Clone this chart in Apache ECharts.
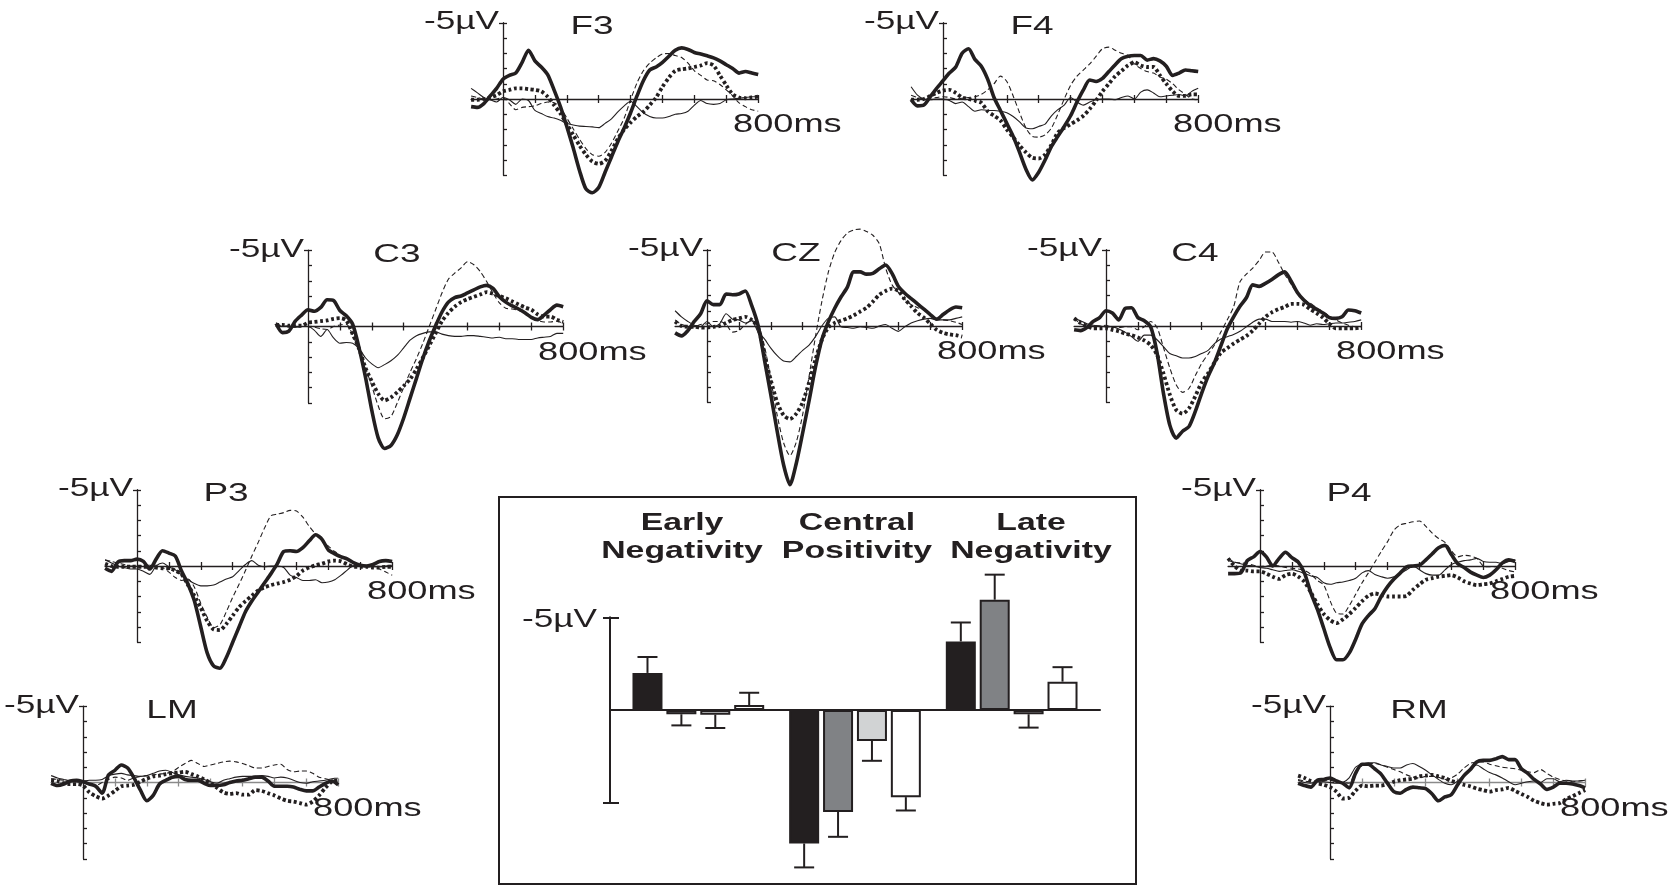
<!DOCTYPE html>
<html><head><meta charset="utf-8">
<script src="https://cdn.jsdelivr.net/npm/echarts@6/dist/echarts.min.js"></script>
<style>html,body{margin:0;padding:0;background:#fff}#c{width:1672px;height:885px}</style>
</head><body><div id="c"></div>
<script>
// ---------- DATA ----------
const timesMs = [-100,-80,-60,-40,-20,0,20,40,60,80,100,120,140,160,180,200,220,240,260,280,300,320,340,360,380,400,420,440,460,480,500,520,540,560,580,600,620,640,660,680,700,720,740,760,780,800];
const xTickMs = [100,200,300,400,500,600,700,800];
const channelNames = ['F3','F4','C3','CZ','C4','P3','P4','LM','RM'];
const ampLabel = '-5µV';
const timeLabel = '800ms';
// values in µV (negative drawn upwards)
const F3_thickSolid = [0.5,0.55,0.3,-0.2,-0.7,-1.3,-1.55,-1.7,-2.4,-3.2,-2.5,-2.1,-1.6,-0.6,0.5,1.8,3.2,4.7,5.9,6.15,5.8,4.8,3.8,2.8,1.9,0.9,-0.2,-1.2,-1.9,-2.1,-2.4,-2.8,-3.2,-3.35,-3.25,-3.05,-2.95,-2.83,-2.7,-2.5,-2.25,-2.0,-1.7,-1.8,-1.7,-1.6];
const F3_thinDashed = [-0.2,-0.1,0.0,0.05,0.0,-0.1,0.3,0.7,0.55,0.5,0.45,0.3,0.2,0.25,0.55,1.25,1.95,2.65,3.25,3.65,3.75,3.5,2.9,2.1,1.25,0.05,-1.05,-1.85,-2.35,-2.7,-2.95,-2.98,-2.85,-2.72,-2.35,-1.85,-1.55,-1.25,-1.2,-0.95,-0.6,-0.2,0.25,0.5,0.7,0.8];
const F3_thickDotted = [0.05,0.05,0.0,-0.1,-0.25,-0.5,-0.6,-0.7,-0.7,-0.65,-0.6,-0.5,-0.15,0.4,0.95,1.65,2.35,3.05,3.65,4.1,4.25,4.05,3.4,2.6,2.0,1.55,1.15,0.85,0.4,-0.1,-0.8,-1.4,-1.85,-1.95,-2.0,-2.1,-2.2,-2.35,-2.2,-1.55,-0.9,-0.3,-0.1,-0.05,-0.1,-0.15];
const F3_thinSolid = [-0.7,-0.4,-0.1,0.05,0.2,-0.1,0.05,0.35,0.0,0.1,0.75,0.95,1.15,1.25,1.4,1.6,1.7,1.78,1.8,1.83,1.88,1.6,1.3,0.85,0.45,0.15,0.5,0.9,1.15,1.25,1.25,1.15,1.0,0.95,0.8,0.4,0.1,0.3,0.35,0.3,0.05,0.0,-0.05,-0.1,-0.15,-0.15];

const F4_thickSolid = [0.05,0.45,0.4,-0.15,-0.7,-1.2,-1.7,-2.1,-3.0,-3.3,-2.6,-2.15,-1.3,-0.1,0.75,1.6,2.45,3.5,4.6,5.3,4.8,4.0,3.1,2.45,1.8,1.1,0.2,-0.6,-1.25,-1.15,-1.35,-1.8,-2.25,-2.65,-2.8,-2.85,-2.85,-2.55,-2.65,-2.5,-2.15,-1.55,-1.7,-1.9,-1.85,-1.8];
const F4_thinDashed = [-0.25,-0.1,0.0,-0.05,-0.1,-0.15,-0.1,0.0,-0.05,-0.1,-0.15,-0.3,-0.6,-1.0,-1.5,-1.15,-0.2,0.9,1.9,2.45,2.5,2.35,1.9,1.0,0.0,-0.9,-1.5,-1.9,-2.3,-2.8,-3.3,-3.4,-3.2,-3.0,-2.85,-2.3,-2.0,-1.8,-1.7,-1.45,-1.3,-1.0,-0.6,-0.3,0.0,0.05];
const F4_thickDotted = [0.05,0.05,0.0,-0.2,-0.4,-0.55,-0.6,-0.4,-0.1,0.0,0.1,0.25,0.8,1.1,1.4,2.0,2.5,3.05,3.5,3.85,3.9,3.65,3.0,2.2,1.9,1.65,1.4,1.1,0.65,0.1,-0.5,-1.0,-1.5,-1.85,-2.2,-2.4,-2.2,-2.1,-2.1,-1.55,-1.0,-0.5,-0.2,-0.2,-0.3,-0.3];
const F4_thinSolid = [-0.8,-0.25,0.0,0.05,0.0,0.0,0.1,0.3,0.2,0.5,0.8,0.7,0.75,0.75,0.8,0.9,1.15,1.5,1.9,1.95,1.8,1.65,1.1,0.7,0.4,-0.1,0.2,0.4,0.2,0.05,0.0,0.0,0.05,-0.1,-0.2,0.0,-0.45,-0.6,-0.4,-0.15,-0.2,-0.25,-0.3,-0.2,-0.5,-0.7];

const C3_thickSolid = [-0.2,0.4,0.3,-0.35,-0.75,-1.1,-1.0,-1.25,-1.75,-1.7,-1.05,-0.7,-0.15,1.4,3.3,5.5,7.3,8.0,7.8,7.1,6.0,4.7,3.4,2.1,0.95,-0.05,-0.95,-1.6,-1.9,-2.0,-2.2,-2.4,-2.6,-2.7,-2.5,-1.95,-1.6,-1.35,-1.15,-0.9,-0.6,-0.45,-0.75,-1.1,-1.4,-1.3];
const C3_thinDashed = [-0.25,0.0,-0.05,-0.05,0.0,0.0,0.05,0.15,0.2,0.0,-0.1,-0.15,0.55,1.6,2.7,3.9,5.2,6.05,5.9,5.0,4.0,3.0,2.1,1.1,0.0,-1.1,-2.2,-3.1,-3.5,-3.85,-4.25,-4.05,-3.6,-2.95,-2.2,-1.55,-1.2,-1.15,-1.05,-0.9,-0.7,-0.4,-0.3,-0.3,-0.35,-0.2];
const C3_thickDotted = [-0.1,-0.1,-0.05,-0.05,-0.05,-0.25,-0.3,-0.35,-0.4,-0.5,-0.55,-0.4,0.5,1.45,2.7,3.6,4.4,4.85,4.65,4.3,3.9,3.45,2.8,2.05,1.25,0.45,-0.35,-0.9,-1.3,-1.6,-1.8,-1.95,-2.1,-2.25,-2.15,-2.0,-1.85,-1.65,-1.45,-1.25,-1.1,-0.8,-0.65,-0.65,-0.45,-0.3];
const C3_thinSolid = [-0.2,0.0,0.0,0.05,0.0,0.0,0.25,0.65,0.2,0.75,1.1,1.05,1.1,1.45,2.05,2.45,2.7,2.5,2.25,1.9,1.4,0.9,0.6,0.45,0.35,0.35,0.5,0.6,0.65,0.65,0.6,0.6,0.65,0.7,0.75,0.7,0.8,0.8,0.85,0.85,0.85,0.75,0.7,0.65,0.45,0.45];

const CZ_thickSolid = [0.45,0.65,0.3,-0.3,-0.8,-1.65,-1.4,-1.4,-2.1,-2.05,-2.1,-2.3,-1.35,-0.05,2.2,4.5,6.9,9.1,10.4,9.0,7.0,4.9,2.7,0.9,-0.25,-1.15,-1.9,-2.55,-3.55,-3.55,-3.4,-3.45,-3.75,-4.0,-3.45,-2.6,-2.15,-1.8,-1.45,-1.1,-0.75,-0.45,-0.75,-1.05,-1.25,-1.2];
const CZ_thinDashed = [-0.4,-0.1,0.0,0.05,-0.1,-0.15,-0.3,-0.3,-0.1,0.4,0.3,-0.1,-0.35,-0.1,1.3,3.5,5.85,7.65,8.5,7.6,5.8,3.3,0.7,-1.6,-3.5,-4.8,-5.6,-6.1,-6.3,-6.35,-6.2,-5.95,-5.4,-3.8,-2.7,-2.2,-1.75,-1.4,-1.2,-1.05,-0.75,-0.45,-0.4,-0.35,-0.25,-0.1];
const CZ_thickDotted = [-0.3,0.0,0.05,0.05,0.1,0.1,0.05,0.0,-0.2,-0.4,-0.5,-0.6,-0.4,0.1,1.9,3.55,5.0,5.85,6.1,5.75,5.0,3.7,2.2,0.9,0.1,-0.2,-0.35,-0.5,-0.7,-0.95,-1.2,-1.6,-2.05,-2.3,-2.45,-2.3,-1.75,-1.3,-0.85,-0.55,-0.15,0.25,0.45,0.55,0.6,0.7];
const CZ_thinSolid = [-1.0,-0.6,-0.3,-0.05,0.05,-0.3,0.05,-0.15,-0.8,-0.45,-0.4,-0.2,-0.35,0.4,0.85,1.45,1.95,2.3,2.35,2.0,1.6,1.25,0.7,0.0,-0.5,-0.6,0.05,0.1,0.15,0.05,0.1,0.15,0.0,-0.1,0.15,0.35,0.05,-0.2,-0.35,-0.45,-0.5,-0.4,-0.4,-0.4,-0.5,-0.6];

const C4_thickSolid = [0.25,0.3,0.1,-0.3,-0.55,-1.0,-0.85,-0.4,-1.15,-1.2,-0.55,-0.35,0.05,1.75,4.4,6.5,7.35,6.9,6.6,5.6,4.4,3.3,2.4,1.3,0.2,-0.6,-1.3,-1.85,-2.7,-2.6,-2.8,-3.05,-3.35,-3.55,-2.95,-2.2,-1.7,-1.35,-1.1,-0.85,-0.55,-0.5,-0.6,-1.05,-1.0,-0.85];
const C4_thinDashed = [-0.5,-0.15,0.0,0.0,0.0,-0.05,0.1,0.1,0.05,0.05,0.25,0.05,-0.3,0.1,1.4,2.75,3.85,4.35,4.1,3.25,2.45,1.85,1.25,0.4,-0.4,-1.25,-2.9,-3.4,-3.8,-4.3,-4.85,-4.85,-4.2,-3.4,-2.75,-2.15,-1.75,-1.5,-1.2,-0.95,-0.65,-0.4,-0.2,-0.05,0.05,0.05];
const C4_thickDotted = [-0.5,-0.2,0.0,0.15,0.15,0.15,0.25,0.35,0.5,0.6,0.75,0.95,1.25,1.9,3.1,4.5,5.5,5.75,5.4,4.6,3.7,3.1,2.4,1.75,1.45,1.15,0.9,0.65,0.3,-0.15,-0.6,-0.9,-1.1,-1.25,-1.45,-1.45,-1.4,-1.1,-0.85,-0.55,-0.15,0.15,0.15,0.15,0.15,0.1];
const C4_thinSolid = [-0.5,-0.35,-0.15,-0.05,0.0,0.05,0.05,0.2,0.4,0.7,1.0,0.6,0.6,0.9,1.35,1.8,1.95,2.1,2.1,2.0,1.8,1.6,1.15,0.85,0.7,0.55,0.35,0.05,-0.25,-0.45,-0.45,-0.3,-0.3,-0.3,-0.25,-0.3,-0.2,-0.05,-0.15,-0.1,-0.15,-0.2,-0.2,-0.25,-0.3,-0.4];

const P3_thickSolid = [0.15,0.35,-0.25,-0.35,-0.35,-0.45,-0.3,0.2,-0.45,-1.0,-0.85,-0.65,0.35,1.2,2.3,4.0,5.7,6.55,6.7,6.0,5.0,4.0,3.0,2.3,1.7,1.1,0.5,-0.15,-0.95,-1.0,-0.95,-1.2,-1.65,-2.05,-1.75,-1.05,-0.8,-0.6,-0.45,-0.2,-0.05,0.0,-0.1,-0.3,-0.35,-0.3];
const P3_thinDashed = [-0.4,-0.3,-0.2,-0.1,0.0,0.0,-0.05,-0.05,-0.05,0.1,0.4,0.75,0.95,0.85,1.4,2.45,3.35,4.05,3.85,3.0,2.05,1.2,0.3,-0.65,-1.55,-2.5,-3.3,-3.4,-3.5,-3.65,-3.6,-3.2,-2.6,-2.1,-1.7,-1.3,-0.95,-0.65,-0.45,-0.25,-0.05,0.0,0.05,0.2,0.4,0.6];
const P3_thickDotted = [-0.15,0.0,0.05,0.05,0.05,0.05,0.05,0.05,0.1,0.15,0.15,0.3,0.55,1.25,1.95,2.75,3.6,4.15,4.2,3.8,3.25,2.7,2.3,1.95,1.6,1.4,1.25,1.15,1.05,0.9,0.65,0.3,0.1,-0.05,-0.15,-0.3,-0.35,-0.3,-0.1,0.05,0.05,0.05,0.1,0.1,0.05,0.05];
const P3_thinSolid = [-0.4,-0.2,0.0,0.1,0.2,0.2,0.35,0.55,0.0,-0.2,0.05,0.25,0.6,0.9,1.15,1.3,1.3,1.25,1.05,0.85,0.7,0.3,-0.1,-0.35,-0.05,0.05,0.0,0.0,0.1,0.6,0.75,0.95,0.95,0.9,1.1,1.05,0.9,0.6,0.25,-0.05,0.0,0.05,0.05,0.05,0.0,-0.05];

const P4_thickSolid = [0.5,0.5,0.45,-0.35,-0.6,-0.95,-0.6,0.0,-0.5,-0.9,-0.55,-0.25,0.5,1.8,2.85,4.1,5.35,6.15,6.15,5.7,4.8,3.8,3.25,2.8,2.0,1.35,0.85,0.45,0.05,0.0,-0.05,-0.4,-0.8,-1.2,-1.35,-0.75,-0.15,0.1,0.4,0.6,0.75,0.6,0.25,-0.2,-0.4,-0.3];
const P4_thinDashed = [-0.5,-0.25,-0.2,-0.15,-0.05,0.05,0.0,-0.05,0.0,0.1,0.15,0.2,0.3,0.55,0.95,1.25,2.3,3.1,3.15,2.6,1.85,1.1,0.45,-0.25,-0.95,-1.6,-2.35,-2.7,-2.8,-2.9,-2.95,-2.6,-2.15,-1.8,-1.55,-1.0,-0.6,-0.7,-0.65,-0.5,0.0,0.05,0.05,0.15,0.3,0.4];
const P4_thickDotted = [-0.5,0.0,0.3,0.3,0.35,0.35,0.5,0.7,0.85,0.6,0.5,0.7,1.05,1.75,2.5,3.15,3.55,3.75,3.5,3.15,2.75,2.3,1.95,1.8,1.9,2.0,2.0,2.0,1.95,1.55,1.2,0.9,0.8,0.7,0.65,0.6,0.75,1.0,1.15,1.25,1.2,1.15,1.0,0.85,0.7,0.65];
const P4_thinSolid = [-0.35,-0.25,-0.15,-0.05,0.0,0.1,0.15,0.25,0.35,0.3,0.25,0.35,0.5,0.65,0.75,1.1,1.2,1.1,1.05,0.95,0.8,0.45,0.3,0.55,0.7,0.8,0.7,0.5,0.25,0.0,0.25,0.5,0.6,0.6,0.25,-0.1,-0.25,-0.35,-0.4,-0.5,-0.3,-0.25,-0.25,-0.15,-0.3,-0.4];

const LM_thickSolid = [0.05,0.2,0.1,-0.1,-0.15,-0.05,0.1,0.25,0.7,-0.5,-0.8,-1.15,-0.95,-0.3,0.5,1.2,0.85,0.1,-0.15,-0.35,-0.4,-0.2,-0.15,-0.15,0.05,0.2,0.2,0.15,0.0,-0.1,-0.15,-0.25,-0.35,-0.35,-0.1,0.25,0.25,0.25,0.3,0.45,0.55,0.55,0.3,0.05,-0.1,0.15];
const LM_thinDashed = [-0.25,-0.2,-0.15,-0.1,-0.05,0.0,0.15,0.2,0.0,-0.2,-0.35,-0.3,-0.15,-0.3,-0.4,-0.45,-0.5,-0.55,-0.6,-0.7,-1.0,-1.25,-1.45,-1.25,-1.05,-1.15,-1.25,-1.35,-1.4,-1.35,-1.25,-1.1,-0.95,-0.95,-1.05,-1.15,-1.2,-0.85,-0.7,-0.75,-0.75,-0.6,-0.35,-0.25,-0.15,-0.05];
const LM_thickDotted = [-0.15,-0.1,0.05,0.1,0.1,0.2,0.65,0.9,1.05,0.85,0.55,0.25,0.2,0.15,-0.05,-0.25,-0.4,-0.45,-0.55,-0.6,-0.65,-0.7,-0.55,-0.4,-0.2,0.05,0.35,0.65,0.75,0.7,0.8,0.8,0.5,0.55,0.7,0.85,1.05,1.2,1.25,1.35,1.45,1.25,0.85,0.35,-0.05,-0.15];
const LM_thinSolid = [-0.45,-0.3,-0.2,-0.1,-0.05,-0.1,-0.15,-0.15,-0.2,-0.45,-0.55,-0.6,-0.5,-0.45,-0.4,-0.45,-0.6,-0.75,-0.8,-0.65,-0.5,-0.4,-0.35,-0.3,-0.2,-0.05,0.05,-0.15,-0.25,-0.35,-0.4,-0.4,-0.4,-0.45,-0.4,-0.3,-0.35,-0.3,-0.15,0.0,0.05,-0.05,-0.1,-0.15,-0.25,-0.3];

const RM_thickSolid = [0.05,0.2,0.3,-0.15,-0.2,-0.3,-0.1,0.05,0.35,-0.6,-1.2,-1.2,-0.9,-0.55,0.05,0.6,0.7,0.45,0.3,0.35,0.4,0.75,1.2,0.95,0.8,0.15,-0.45,-0.85,-1.35,-1.45,-1.45,-1.55,-1.7,-1.5,-1.5,-0.9,-0.6,-0.2,0.1,0.45,0.3,0.05,0.05,0.1,0.2,0.35];
const RM_thinDashed = [-0.2,-0.1,-0.05,-0.05,-0.1,-0.15,-0.05,0.0,0.05,-0.7,-1.1,-1.25,-1.25,-1.15,-1.0,-0.85,-0.7,-0.5,-0.35,-0.3,-0.4,-0.4,-0.35,-0.2,-0.3,-0.55,-0.95,-1.25,-1.35,-1.35,-1.2,-1.1,-1.0,-0.95,-0.9,-0.8,-0.7,-0.65,-0.85,-0.6,-0.35,-0.2,-0.1,-0.05,-0.1,-0.15];
const RM_thickDotted = [-0.45,-0.3,-0.1,0.05,0.15,0.3,0.6,1.05,1.0,0.55,0.2,0.25,0.2,0.2,0.1,-0.05,-0.15,-0.2,-0.25,-0.4,-0.45,-0.5,-0.4,-0.3,-0.1,0.0,0.15,0.25,0.4,0.5,0.6,0.5,0.45,0.35,0.55,0.75,0.95,1.2,1.35,1.45,1.4,1.35,1.1,0.9,0.7,0.5];
const RM_thinSolid = [-0.15,0.0,0.05,-0.05,-0.05,0.0,0.05,0.0,-0.3,-1.0,-1.2,-1.3,-1.3,-1.15,-1.05,-0.95,-0.95,-1.15,-1.25,-1.05,-0.8,-0.5,-0.2,0.05,0.15,-0.1,-0.5,-0.9,-1.15,-0.9,-0.65,-0.5,-0.3,-0.05,0.15,0.05,-0.05,-0.1,0.0,-0.25,-0.25,-0.05,-0.15,-0.1,-0.1,-0.15];

// bar inset (µV, negative drawn upwards)
const barCategories = ['Early Negativity','Central Positivity','Late Negativity'];
const barCategoryLines = [['Early','Negativity'],['Central','Positivity'],['Late','Negativity']];
const barBlack = [-2.0, 7.2, -3.7];
const barDarkGray = [0.23, 5.5, -5.95];
const barLightGray = [0.25, 1.67, 0.23];
const barWhite = [-0.27, 4.7, -1.53];
const errBlack = [0.86, 1.29, 1.02];
const errDarkGray = [0.6, 1.34, 1.35];
const errLightGray = [0.72, 1.07, 0.72];
const errWhite = [0.66, 0.72, 0.78];

// ---------- LAYOUT / STYLE ----------
const INK = '#231f20';
const FONT = '"Liberation Sans", Arial, Helvetica, sans-serif';
const PX_PER_MS = 0.319, PX_PER_UV = 15.25;
// origin (0 ms, 0 µV) of each panel, in px
const panelOrigin = [[503,99],[943,99],[308,326.5],[707,326],[1106,326],[137,566],[1260,566],[83,782.5],[1330,782.5]];
const panelData = [
  [F3_thickSolid,F3_thinDashed,F3_thickDotted,F3_thinSolid],
  [F4_thickSolid,F4_thinDashed,F4_thickDotted,F4_thinSolid],
  [C3_thickSolid,C3_thinDashed,C3_thickDotted,C3_thinSolid],
  [CZ_thickSolid,CZ_thinDashed,CZ_thickDotted,CZ_thinSolid],
  [C4_thickSolid,C4_thinDashed,C4_thickDotted,C4_thinSolid],
  [P3_thickSolid,P3_thinDashed,P3_thickDotted,P3_thinSolid],
  [P4_thickSolid,P4_thinDashed,P4_thickDotted,P4_thinSolid],
  [LM_thickSolid,LM_thinDashed,LM_thickDotted,LM_thinSolid],
  [RM_thickSolid,RM_thinDashed,RM_thickDotted,RM_thinSolid]
];
const lineStyles = [
  {width:3.6, type:'solid'},
  {width:1.1, type:[5,3]},
  {width:3.8, type:[3,2.6]},
  {width:1.1, type:'solid'}
];
const drawOrder = [3,1,2,0];
const grayAxisPanels = ['LM','RM'];

function label(x, y, text, align, opts) {
  opts = opts || {};
  return {type:'text', x:x, y:y, scaleX:opts.sx||1.42, scaleY:1, originX:0, originY:0, silent:true, z:100,
    style:{text:text, fill:INK, fontSize:opts.size||25.5, fontFamily:FONT, fontWeight:opts.bold?'bold':'normal',
      align:align, verticalAlign:'middle', textAlign:align, textVerticalAlign:'middle'}};
}

const option = {animation:false, backgroundColor:'#fff', grid:[], xAxis:[], yAxis:[], series:[], graphic:[]};

panelData.forEach((sets, i) => {
  const [ox, oy] = panelOrigin[i];
  const name = channelNames[i];
  const gi = option.grid.length;
  option.grid.push({left: ox - 100*PX_PER_MS, top: oy - 5*PX_PER_UV, width: 900*PX_PER_MS, height: 10*PX_PER_UV, containLabel:false});
  const xi = option.xAxis.length, yi = option.yAxis.length;
  const axisCol = grayAxisPanels.includes(name) ? '#8a8a8a' : INK;
  option.xAxis.push({gridIndex:gi, type:'value', min:-100, max:800, interval:100, position:'bottom',
    axisLine:{show:true, onZero:true, onZeroAxisIndex:yi, lineStyle:{color:axisCol, width:1.3}},
    axisTick:{show:true, inside:false, length:4, customValues:xTickMs, lineStyle:{color:axisCol, width:1.3}},
    axisLabel:{show:false}, splitLine:{show:false}});
  option.xAxis.push({gridIndex:gi, type:'value', min:-100, max:800, interval:100, position:'bottom',
    axisLine:{show:false, onZero:true, onZeroAxisIndex:yi},
    axisTick:{show:true, inside:true, length:4, customValues:xTickMs, lineStyle:{color:axisCol, width:1.3}},
    axisLabel:{show:false}, splitLine:{show:false}});
  option.yAxis.push({gridIndex:gi, type:'value', inverse:true, min:-5, max:5, interval:1, position:'left',
    axisLine:{show:true, onZero:true, onZeroAxisIndex:xi, lineStyle:{color:INK, width:1.3}},
    axisTick:{show:true, inside:true, length:4, lineStyle:{color:INK, width:1.3}},
    axisLabel:{show:false}, splitLine:{show:false}});
  option.yAxis.push({gridIndex:gi, type:'value', inverse:true, min:-5, max:5, interval:1, position:'left',
    axisLine:{show:false, onZero:true, onZeroAxisIndex:xi},
    axisTick:{show:true, inside:false, length:4, customValues:[-5], lineStyle:{color:INK, width:1.3}},
    axisLabel:{show:false}, splitLine:{show:false}});
  drawOrder.forEach(c => {
    const arr = sets[c];
    option.series.push({type:'line', xAxisIndex:xi, yAxisIndex:yi, silent:true, clip:false,
      symbol:'none', showSymbol:false, smooth:0.25, z:2 + (c===0?2:c===2?1:0),
      data: timesMs.map((t,k) => [t, arr[k]]),
      lineStyle:{color:INK, width:lineStyles[c].width, type:lineStyles[c].type, cap:'butt', join:'round'}});
  });
  option.graphic.push(label(ox - 4, oy - 77, ampLabel, 'right', {sx:1.38}));
  option.graphic.push(label(ox + 89, oy - 72, name, 'center', {sx:1.45}));
  option.graphic.push(label(ox + 230, oy + 26, timeLabel, 'left', {sx:1.42}));
});

// ---------- BAR INSET ----------
const BAR_AXIS_X = 610, BAR_TOP = 617.3, BAR_H = 185.4, BAR_ZERO_END = 1100;
const gA = option.grid.length;
option.grid.push({left:BAR_AXIS_X, top:BAR_TOP, width:BAR_ZERO_END-BAR_AXIS_X, height:BAR_H, containLabel:false});
const xA = option.xAxis.length, yA = option.yAxis.length;
option.xAxis.push({gridIndex:gA, type:'value', min:0, max:1, position:'bottom',
  axisLine:{show:true, onZero:true, onZeroAxisIndex:yA, lineStyle:{color:INK, width:2}},
  axisTick:{show:false}, axisLabel:{show:false}, splitLine:{show:false}});
option.yAxis.push({gridIndex:gA, type:'value', inverse:true, min:-5, max:5, position:'left',
  axisLine:{show:true, onZero:false, lineStyle:{color:INK, width:2}},
  axisTick:{show:true, inside:false, length:7, customValues:[-5,5], lineStyle:{color:INK, width:2}},
  axisLabel:{show:false}, splitLine:{show:false}});
option.yAxis.push({gridIndex:gA, type:'value', inverse:true, min:-5, max:5, position:'left', offset:0,
  axisLine:{show:false, onZero:false},
  axisTick:{show:true, inside:true, length:9, customValues:[-5,5], lineStyle:{color:INK, width:2}},
  axisLabel:{show:false}, splitLine:{show:false}});

const gB = option.grid.length;
option.grid.push({left:620, top:BAR_TOP, width:470, height:BAR_H, containLabel:false});
const xB = option.xAxis.length, yB = option.yAxis.length;
option.xAxis.push({gridIndex:gB, type:'category', data:barCategories, show:false});
option.yAxis.push({gridIndex:gB, type:'value', inverse:true, min:-5, max:5, show:false});

const BAR_W = 30, BAR_GAP = 0.13;
const barSets = [
  {vals:barBlack, errs:errBlack, color:'#231f20'},
  {vals:barDarkGray, errs:errDarkGray, color:'#808285'},
  {vals:barLightGray, errs:errLightGray, color:'#d1d3d4'},
  {vals:barWhite, errs:errWhite, color:'#ffffff'}
];
barSets.forEach((b, s) => {
  option.series.push({type:'bar', xAxisIndex:xB, yAxisIndex:yB, silent:true, clip:false,
    barWidth:BAR_W, barGap:(BAR_GAP*100)+'%', data:b.vals,
    itemStyle:{color:b.color, borderColor:INK, borderWidth:2}});
});
barSets.forEach((b, s) => {
  const off = (s - 1.5) * BAR_W * (1 + BAR_GAP);
  option.series.push({type:'custom', xAxisIndex:xB, yAxisIndex:yB, silent:true, clip:false, z:3,
    data: b.vals.map((v,k) => [k, v, b.errs[k]]),
    renderItem: (params, api) => {
      const k = api.value(0), v = api.value(1), e = api.value(2);
      const sg = v < 0 ? -1 : 1;
      const p0 = api.coord([k, v]), p1 = api.coord([k, v + sg*e]);
      const x = p0[0] + off;
      const st = {stroke:INK, lineWidth:2, fill:null};
      return {type:'group', children:[
        {type:'line', shape:{x1:x, y1:p0[1], x2:x, y2:p1[1]}, style:st},
        {type:'line', shape:{x1:x-10, y1:p1[1], x2:x+10, y2:p1[1]}, style:st}
      ]};
    }});
});

option.graphic.push({type:'rect', silent:true, z:50, shape:{x:499, y:497, width:637, height:387},
  style:{fill:'transparent', stroke:INK, lineWidth:2}});
option.graphic.push(label(597, 620, ampLabel, 'right', {sx:1.38}));
const catCenters = [682, 857, 1031];
barCategoryLines.forEach((lines, k) => {
  option.graphic.push(label(catCenters[k], 524, lines[0], 'center', {bold:true, size:23, sx:1.47}));
  option.graphic.push(label(catCenters[k], 552, lines[1], 'center', {bold:true, size:23, sx:1.47}));
});

const chart = echarts.init(document.getElementById('c'), null, {renderer:'canvas'});
chart.setOption(option);
</script>
</body></html>
